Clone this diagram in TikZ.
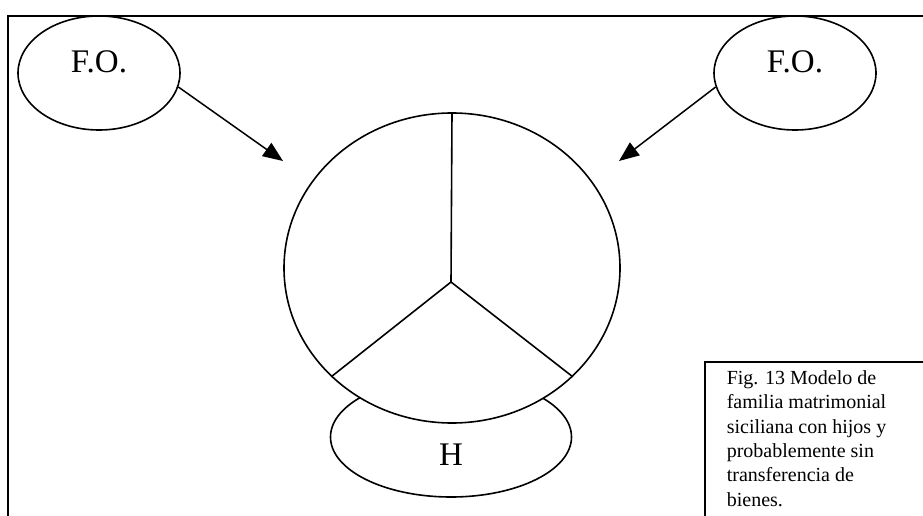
\documentclass[tikz,border=0pt]{standalone}
\usepackage{fontspec}
\setmainfont{Liberation Serif}
\usepackage{tikz}
\usetikzlibrary{arrows.meta, positioning, shapes.geometric, calc}

\begin{document}
\begin{tikzpicture}[
    x=1pt, y=-1pt,
    line width=1.6pt,
    big/.style={font=\fontsize{33}{40}\selectfont},
    oval/.style={draw, ellipse, inner sep=0pt, fill=white},
    fo/.style={oval, minimum width=162pt, minimum height=114pt},
    arrow/.style={-{Triangle[length=20pt, width=16pt]}, line width=1.5pt}
]
\useasboundingbox (0,0) rectangle (923,516);

% Frame (runs off the page to the right and bottom)
\draw[line width=1.9pt] (923,16) -- (8,16) -- (8,516);

% Caption box
\draw[line width=1.9pt] (923,362) -- (705,362) -- (705,516);
\node[anchor=north west, inner sep=0pt, align=left,
      font=\fontsize{20}{24.3}\selectfont] (caption) at (726,370)
    {Fig. 13 Modelo de\\familia matrimonial\\siciliana con hijos y\\probablemente sin\\transferencia de\\bienes.};

% Outer families
\node[fo, label={[big, yshift=11pt]center:F.O.}] (foL) at (99,73) {};
\node[fo, label={[big, yshift=11pt]center:F.O.}] (foR) at (795,73) {};

% Children
\node[oval, minimum width=241pt, minimum height=120pt,
      label={[big, yshift=-18pt]center:H}] (kids) at (451,437) {};

% Family circle, drawn over the children
\node[oval, minimum width=336pt, minimum height=310pt] (family) at (452,268) {};
\coordinate (hub) at (451,282);
\draw (hub) -- (family.north);
\draw (hub) -- (family.222);
\draw (hub) -- (family.318);

% Arrows
\coordinate (tipL) at (283,161);
\coordinate (tipR) at (619,161);
\draw[arrow] (foL.-10) -- (tipL);
\draw[arrow] (foR.190) -- (tipR);
\end{tikzpicture}
\end{document}
